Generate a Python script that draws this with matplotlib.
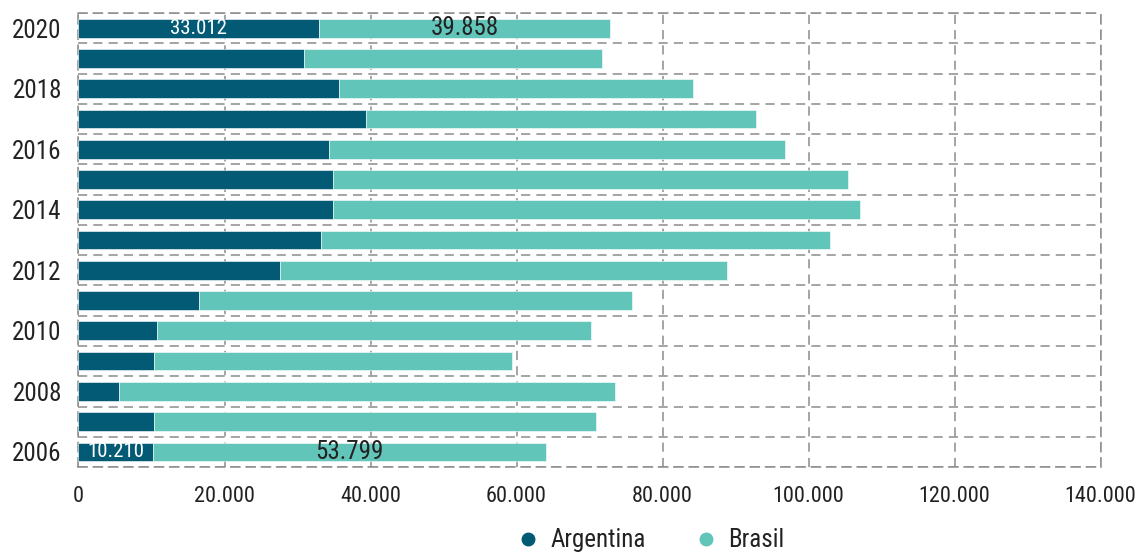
import numpy as np
import matplotlib.pyplot as plt
import matplotlib.font_manager as fm
from matplotlib.lines import Line2D
from matplotlib.ticker import FuncFormatter, MultipleLocator

# datos por año
anios = [2006, 2007, 2008, 2009, 2010, 2011, 2012, 2013, 2014, 2015, 2016, 2017, 2018, 2019, 2020]
argentina = [10210, 10350, 5600, 10350, 10760, 16560, 27610, 33270, 34870, 34870, 34320, 39390, 35640, 30940, 33012]
brasil = [53799, 60500, 67930, 48990, 59400, 59300, 61180, 69720, 72230, 70540, 62460, 53370, 48540, 40760, 39858]
anios_etiqueta = [2006, 2020]

c_arg = "#025a75"
c_bra = "#62c5b9"
c_grid = "#8c8c8c"
c_txt = "#222222"


def fuente_estrecha():
    # busca alguna fuente condensada instalada
    prefer = ["liberation sans narrow", "roboto condensed", "dejavu sans condensed",
              "open sans condensed", "noto sans condensed", "narrow", "condensed"]
    fuentes = [f for f in fm.fontManager.ttflist if f.style == "normal"
               and str(f.weight) in ("400", "normal", "regular")]
    for p in prefer:
        for f in fuentes:
            nombre = (f.name + " " + f.fname + " " + str(f.stretch)).lower().replace("-", " ")
            if p in nombre and "bold" not in f.fname.lower() and "oblique" not in f.fname.lower():
                return fm.FontProperties(fname=f.fname)
    return None


fp = fuente_estrecha()
if fp is None:
    fp = fm.FontProperties(family=["Roboto", "DejaVu Sans"])
    escala = 0.85
else:
    escala = 1.0


def fuente(tam):
    p = fp.copy()
    p.set_size(tam * escala)
    return p


def miles(v, pos=None):
    return f"{int(round(v)):,}".replace(",", ".")


fig = plt.figure(figsize=(11.36, 5.56), dpi=100)
ax = fig.add_axes([0.0691, 0.160, 0.8997, 0.8165])

ax.barh(anios, argentina, height=0.62, color=c_arg, edgecolor="white", linewidth=0.4, zorder=3)
ax.barh(anios, brasil, left=argentina, height=0.62, color=c_bra, edgecolor="white", linewidth=0.4, zorder=3)

# etiquetas de valor solo para el primer y último año
for a in anios_etiqueta:
    i = anios.index(a)
    ax.text(argentina[i] / 2, a, miles(argentina[i]), ha="center", va="center",
            color="white", fontproperties=fuente(15), zorder=4)
    ax.text(argentina[i] + brasil[i] / 2, a, miles(brasil[i]), ha="center", va="center",
            color=c_txt, fontproperties=fuente(18), zorder=4)

ax.set_xlim(0, 140000)
ax.set_ylim(2005.5, 2020.5)
ax.xaxis.set_major_locator(MultipleLocator(20000))
ax.xaxis.set_major_formatter(FuncFormatter(miles))
ax.set_yticks(anios[::2])
ax.set_yticklabels([str(a) for a in anios[::2]])
ax.yaxis.set_minor_locator(MultipleLocator(1, offset=0.5))

ax.set_axisbelow(True)
dash = (0, (6, 4))
ax.grid(axis="x", which="major", color=c_grid, linestyle=dash, linewidth=1.1)
ax.grid(axis="y", which="minor", color=c_grid, linestyle=dash, linewidth=1.1)
ax.grid(axis="y", which="major", visible=False)
for s in ax.spines.values():
    s.set_color(c_grid)
    s.set_linestyle(dash)
    s.set_linewidth(1.1)

ax.tick_params(axis="both", which="both", length=0, colors=c_txt)
ax.tick_params(axis="x", pad=14)
ax.tick_params(axis="y", pad=12)
for lab in ax.get_xticklabels():
    lab.set_fontproperties(fuente(16))
for lab in ax.get_yticklabels():
    lab.set_fontproperties(fuente(18))

handles = [
    Line2D([], [], marker="o", linestyle="none", markersize=9, color=c_arg, label="Argentina"),
    Line2D([], [], marker="o", linestyle="none", markersize=9, color=c_bra, label="Brasil"),
]
leg = fig.legend(handles=handles, loc="center", bbox_to_anchor=(0.572, 0.028), ncol=2, frameon=False,
                 prop=fuente(18), handlelength=1.0, handletextpad=0.4, columnspacing=1.9,
                 borderpad=0.1)
for t in leg.get_texts():
    t.set_color(c_txt)

fig.savefig("out.png", dpi=100)
